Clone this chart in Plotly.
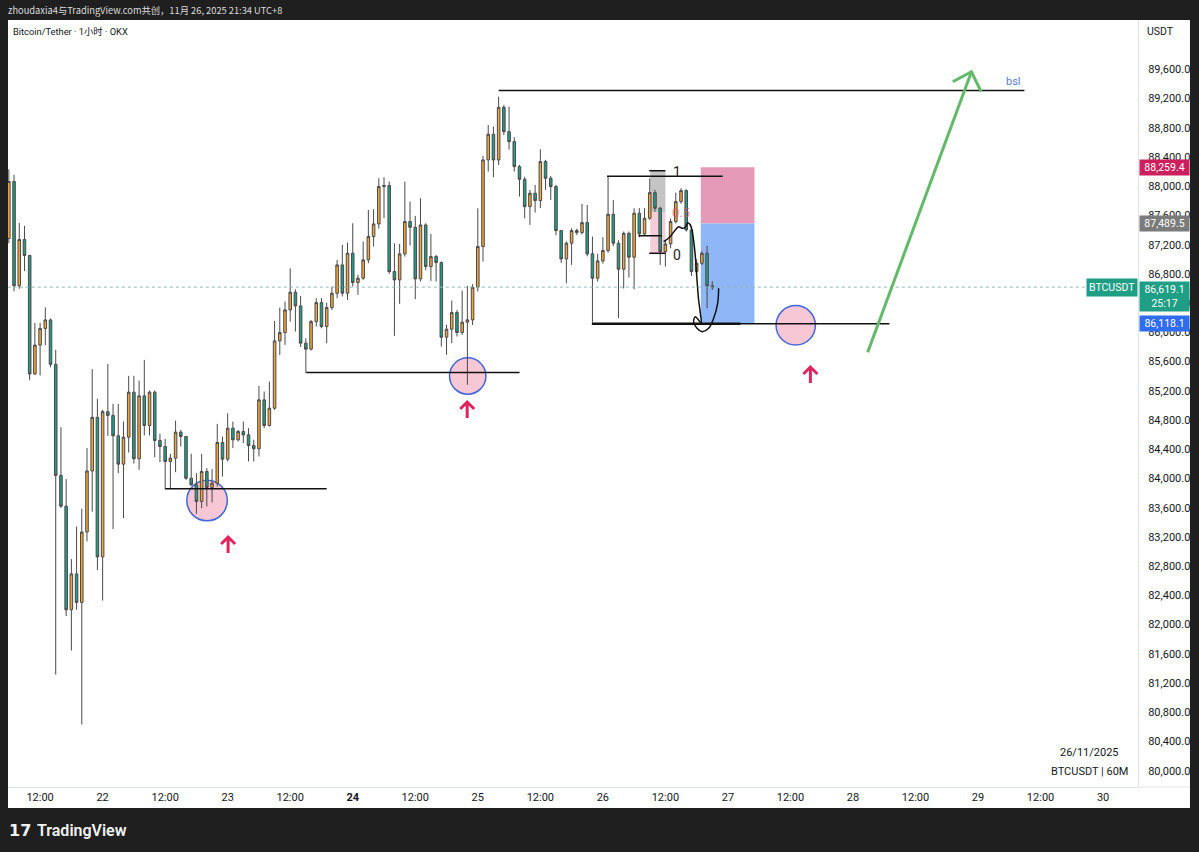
import pandas as pd
import plotly.graph_objects as go

# BTC/USDT 1h candles on OKX, 21 Nov 06:00 -> 26 Nov 21:00 (UTC+8)
START = "2025-11-21 06:00"

OPEN = [
    87285, 88065, 86636, 87270, 87052, 85430, 85825, 86054, 86170, 85562,
    84042, 83621, 82203, 82694, 82304, 83267, 84103, 84837, 82927, 84914,
    84863, 84584, 84196, 84565, 85181, 84269, 85131, 84725, 85181, 84520,
    84438, 84232, 84278, 84634, 84574, 84004, 83913, 83685, 84095, 83877,
    83936, 84492, 84264, 84688, 84529, 84643, 84597, 84451, 84406, 85076,
    84725, 84962, 85883, 85997, 86307, 86549, 86362, 85852, 85770, 86147,
    86407, 86079, 86339, 86535, 86923, 86536, 87083, 86682, 86741, 86992,
    87311, 87484, 87995, 88009, 86832, 86718, 87074, 87516, 87438, 86732,
    87470, 86900, 87037, 86955, 85934, 86043, 86271, 85998, 86139, 86171,
    86618, 87174, 88360, 88711, 88360, 89080, 88747, 88610, 88268, 88095,
    87721, 87904, 87803, 88337, 88109, 87995, 87393, 87005, 87220, 87393,
    87365, 87502, 87074, 86741, 86978, 87119, 87616, 87220, 86864, 87356,
    87028, 87630, 87347, 87561, 87912, 87698, 87105, 87210, 87516, 87789,
    87940, 87402, 86832, 86946, 87082, 86636,
]
HIGH = [
    88232, 88156, 87498, 87457, 87060, 86130, 86130, 86342, 86190, 85760,
    84701, 83991, 82897, 83343, 83586, 84417, 85496, 85091, 84940, 85568,
    85021, 85021, 84779, 85404, 85404, 85340, 85623, 85204, 85204, 84611,
    84542, 84337, 84793, 84665, 84583, 84337, 84073, 84337, 84141, 84127,
    84748, 84574, 84893, 84779, 84665, 84779, 84688, 84529, 85267, 85190,
    85327, 86157, 86339, 86421, 86877, 86590, 86499, 85919, 86170, 86467,
    86467, 86407, 86626, 86992, 87197, 87229, 87493, 86787, 87243, 87676,
    87685, 88109, 88123, 88063, 87220, 87210, 88063, 87790, 87594, 87835,
    87493, 87347, 87060, 86969, 86102, 86435, 86307, 86572, 86636, 86660,
    87698, 88415, 88838, 88816, 89226, 89112, 89089, 88670, 88290, 88130,
    87949, 88018, 88506, 88360, 88140, 88020, 87400, 87243, 87425, 87420,
    87758, 87744, 87311, 87074, 87302, 88141, 87812, 87260, 87380, 87380,
    87698, 87700, 87700, 88108, 87950, 87720, 87260, 87560, 87912, 87972,
    87960, 87420, 87000, 87110, 87183, 86700,
]
LOW = [
    87219, 86560, 86596, 86839, 85344, 85420, 85410, 85825, 85522, 81316,
    83596, 82117, 81645, 82203, 80632, 83140, 83545, 82745, 82329, 84584,
    83307, 84073, 83457, 84355, 84204, 84118, 84588, 84588, 84292, 84223,
    83854, 83854, 84086, 84437, 83981, 83899, 83516, 83594, 83617, 83671,
    83890, 84027, 84232, 84415, 84506, 84483, 84232, 84232, 84301, 84688,
    84711, 84939, 85691, 85828, 86147, 86011, 85800, 85441, 85751, 86079,
    86056, 85851, 86307, 86467, 86490, 86444, 86627, 86513, 86718, 86946,
    87174, 87420, 87562, 86800, 85952, 86390, 87037, 87188, 86454, 86695,
    86850, 86704, 86695, 85806, 85692, 85852, 85943, 85966, 85282, 86100,
    86560, 86969, 88200, 88123, 88290, 88700, 88500, 88200, 87858, 87560,
    87470, 87640, 87700, 87950, 87812, 87330, 86950, 86672, 86923, 87330,
    87340, 87040, 86134, 86695, 86940, 87090, 87180, 86194, 86600, 86750,
    86590, 87300, 87320, 87540, 87650, 86923, 86900, 87150, 87490, 87760,
    87380, 86772, 86810, 86920, 86330, 86580,
]
CLOSE = [
    88065, 86636, 87270, 87052, 85430, 85825, 86054, 86170, 85562, 84042,
    83621, 82203, 82694, 82304, 83267, 84103, 84837, 82927, 84914, 84863,
    84584, 84196, 84565, 85181, 84269, 85131, 84725, 85181, 84520, 84438,
    84232, 84278, 84634, 84574, 84004, 83913, 83685, 84095, 83877, 83936,
    84492, 84264, 84688, 84529, 84643, 84597, 84451, 84406, 85076, 84725,
    84962, 85883, 85997, 86307, 86549, 86362, 85852, 85770, 86147, 86407,
    86079, 86339, 86535, 86923, 86536, 87083, 86682, 86741, 86992, 87311,
    87484, 87995, 88009, 86832, 86718, 87074, 87516, 87438, 86732, 87470,
    86900, 87037, 86955, 85934, 86043, 86271, 85998, 86139, 86171, 86618,
    87174, 88360, 88711, 88360, 89080, 88747, 88610, 88268, 88095, 87721,
    87904, 87803, 88337, 88109, 87995, 87393, 87005, 87220, 87393, 87365,
    87502, 87074, 86741, 86978, 87119, 87616, 87220, 86864, 87356, 87028,
    87630, 87347, 87561, 87912, 87698, 87105, 87210, 87516, 87789, 87940,
    87402, 86832, 86946, 87082, 86636, 86619.1,
]

X_TICKS = [
    "2025-11-21 12:00", "2025-11-22", "2025-11-22 12:00", "2025-11-23",
    "2025-11-23 12:00", "2025-11-24", "2025-11-24 12:00", "2025-11-25",
    "2025-11-25 12:00", "2025-11-26", "2025-11-26 12:00", "2025-11-27",
    "2025-11-27 12:00", "2025-11-28", "2025-11-28 12:00", "2025-11-29",
    "2025-11-29 12:00", "2025-11-30",
]
X_LABELS = [
    "12:00", "22", "12:00", "23", "12:00", "<b>24</b>", "12:00", "25", "12:00",
    "26", "12:00", "27", "12:00", "28", "12:00", "29", "12:00", "30",
]
Y_TICKS = list(range(80000, 89601, 400))

# drawn levels and position tool prices
LAST_PRICE = 86619.1
STOP_PRICE = 88259.4
ENTRY_PRICE = 87489.5
TARGET_PRICE = 86118.1
BSL_LEVEL = 89310
MID_LEVEL = 85449
LOW_LEVEL = 83858
FIB_TOP, FIB_BOTTOM = 88212, 87082

# hand drawn path, hours from 22 Nov 00:00 / price
CURVE_HOURS = [107.66, 108.81, 109.91, 110.54, 111.19, 111.83, 112.27, 112.79,
               113.31, 113.75, 114.07, 114.38, 114.71, 114.84, 113.75, 113.42,
               114.07, 115.03, 116.30, 117.26, 118.03, 118.22]
CURVE_PRICES = [87241, 87301, 87401, 87446, 87424, 87438, 87500, 87469,
                87309, 87035, 86716, 86442, 86260, 86132, 86214, 86145,
                86055, 86009, 86055, 86192, 86397, 86603]

UP = "#f2a33a"
DOWN = "#259a85"
FONT = "Roboto, Arial, sans-serif"
CJK = "Noto Sans CJK SC, Roboto, sans-serif"

BASE = pd.Timestamp("2025-11-22 00:00")


def at(h):
    return BASE + pd.Timedelta(hours=h)


times = pd.date_range(START, periods=len(OPEN), freq="h")

fig = go.Figure()
fig.add_trace(go.Candlestick(
    x=times, open=OPEN, high=HIGH, low=LOW, close=CLOSE,
    increasing=dict(fillcolor=UP, line=dict(color="#4a4a4a", width=1)),
    decreasing=dict(fillcolor=DOWN, line=dict(color="#4a4a4a", width=1)),
    whiskerwidth=0, hoverinfo="skip",
))
fig.add_trace(go.Scatter(
    x=[at(h) for h in CURVE_HOURS], y=CURVE_PRICES, mode="lines",
    line=dict(color="#111111", width=1.5, shape="spline"), hoverinfo="skip",
))

shapes = []
# white chart frame (axes areas)
shapes.append(dict(type="rect", xref="paper", yref="paper", x0=0, x1=1.046,
                   y0=-0.0274, y1=1, fillcolor="white", line_width=0, layer="below"))
shapes.append(dict(type="line", xref="paper", yref="paper", x0=1, x1=1.046,
                   y0=0, y1=0, line=dict(color="#e0e3eb", width=1)))

# position tool boxes + fib box
shapes.append(dict(type="rect", x0=at(114.8), x1=at(125.1), y0=ENTRY_PRICE, y1=STOP_PRICE,
                   fillcolor="#e59bb8", line_width=0, layer="below"))
shapes.append(dict(type="rect", x0=at(114.8), x1=at(125.1), y0=TARGET_PRICE, y1=ENTRY_PRICE,
                   fillcolor="#8fb6f6", line_width=0, layer="below"))
fib_mid = (FIB_TOP + FIB_BOTTOM) / 2
shapes.append(dict(type="rect", x0=at(105.1), x1=at(108.0), y0=fib_mid, y1=FIB_TOP,
                   fillcolor="#c4c4c4", line_width=0, layer="below"))
shapes.append(dict(type="rect", x0=at(105.1), x1=at(108.0), y0=FIB_BOTTOM, y1=fib_mid,
                   fillcolor="#f6cdd6", line_width=0, layer="below"))

# circles
for h0, h1, p0, p1 in [(16.15, 23.94, 83420, 83976),
                       (66.57, 73.56, 85153, 85651),
                       (129.24, 136.79, 85827, 86366)]:
    shapes.append(dict(type="circle", x0=at(h0), x1=at(h1), y0=p0, y1=p1,
                       fillcolor="#f7c7d6", line=dict(color="#4566d8", width=1.5),
                       layer="below"))

# current price line
shapes.append(dict(type="line", x0=at(-18.2), x1=at(189.6), y0=LAST_PRICE, y1=LAST_PRICE,
                   line=dict(color="#8dbab1", width=1, dash="dot")))

# horizontal levels
for h0, h1, p, w in [(76.0, 176.9, BSL_LEVEL, 1.5),
                     (39.1, 80.0, MID_LEVEL, 1.5),
                     (12.0, 43.0, LOW_LEVEL, 1.5),
                     (93.9, 151.0, TARGET_PRICE, 1.5),
                     (93.9, 122.4, TARGET_PRICE, 2.5),
                     (96.8, 119.0, 88135, 1.5),
                     (104.9, 108.0, FIB_TOP, 1.5),
                     (104.9, 108.0, FIB_BOTTOM, 1.5),
                     (102.85, 107.35, 87322, 1.5)]:
    shapes.append(dict(type="line", x0=at(h0), x1=at(h1), y0=p, y1=p,
                       line=dict(color="#111111", width=w)))

# green projection arrow
shapes.append(dict(type="line", x0=at(146.83), x1=at(166.74), y0=85727, y1=89567,
                   line=dict(color="#63b968", width=3)))
shapes.append(dict(type="path", xsizemode="pixel", ysizemode="pixel",
                   xanchor=at(166.74), yanchor=89567,
                   path="M-18.7,-10 L0,0 L9.7,-20", line=dict(color="#63b968", width=3)))

# red up arrows
for h, p in [(24.08, 83089), (69.96, 84937), (135.83, 85416)]:
    shapes.append(dict(type="path", xsizemode="pixel", ysizemode="pixel",
                       xanchor=at(h), yanchor=p,
                       path="M0,-8 L0,8 M-7,1 L0,8 L7,1",
                       line=dict(color="#e0245e", width=3)))

annotations = []


def tag(text, price, bg, yshift=0, yanchor="middle"):
    annotations.append(dict(
        text=text, xref="paper", x=1.0, xanchor="left", xshift=1, y=price, yref="y",
        yanchor=yanchor, yshift=yshift, showarrow=False, bgcolor=bg, width=47,
        borderpad=1, align="center", font=dict(family=FONT, size=10.5, color="white"),
    ))


tag("88,259.4", STOP_PRICE, "#cc1f5e")
tag("87,489.5", ENTRY_PRICE, "#7b7b7b")
tag("86,619.1<br>25:17", LAST_PRICE, "#1f9e86", yshift=6, yanchor="top")
tag("86,118.1", TARGET_PRICE, "#2f6cf0")
annotations.append(dict(
    text="BTCUSDT", xref="paper", x=1.0, xanchor="right", y=LAST_PRICE, yref="y",
    showarrow=False, bgcolor="#1f9e86", borderpad=2,
    font=dict(family=FONT, size=10.5, color="white"),
))

# drawing labels
for text, h, p, color, size in [("1", 110.2, 88200, "#222222", 14),
                                ("0", 110.2, 87060, "#222222", 14),
                                ("0.5", 110.9, 87635, "rgba(220,80,95,0.7)", 13),
                                ("bsl", 174.8, 89440, "#5b79d6", 11)]:
    annotations.append(dict(text=text, x=at(h), y=p, showarrow=False,
                            font=dict(family=FONT, size=size, color=color)))


# frame texts (paper coordinates)
def paper_text(text, px, py, size, color, family=FONT, xanchor="left", weight=None):
    font = dict(family=family, size=size, color=color)
    if weight:
        font["weight"] = weight
    annotations.append(dict(text=text, xref="paper", yref="paper",
                            x=(px - 8) / 1130, y=(787 - py) / 767,
                            xanchor=xanchor, yanchor="middle", showarrow=False, font=font))


paper_text("zhoudaxia4与TradingView.com共创，11月 26, 2025 21:34 UTC+8", 6, 10, 9.3, "#dcdcdc", CJK)
paper_text("Bitcoin/Tether · 1小时 · OKX", 11, 31, 9.3, "#131722", FONT + ", Noto Sans CJK SC")
paper_text("USDT", 1160, 32, 10.5, "#131722", xanchor="center")
paper_text("26/11/2025", 1089, 752, 11, "#131722", xanchor="center")
paper_text("BTCUSDT | 60M", 1089, 771, 11, "#131722", xanchor="center")
paper_text("<b>17</b>", 7, 830, 16, "#f2f2f2", "DejaVu Sans")
paper_text("TradingView", 35, 830, 16, "#f2f2f2", weight=600)

fig.update_layout(
    width=1199, height=852,
    margin=dict(l=8, r=61, t=20, b=65),
    paper_bgcolor="#1f1f1f", plot_bgcolor="white",
    showlegend=False,
    font=dict(family=FONT, color="#131722"),
    shapes=shapes, annotations=annotations,
    xaxis=dict(
        type="date", range=[at(-18.16), at(198.7)],
        tickvals=X_TICKS, ticktext=X_LABELS, ticks="",
        showgrid=False, zeroline=False, rangeslider=dict(visible=False),
        showline=True, linecolor="#e0e3eb", linewidth=1,
        tickfont=dict(size=11, color="#131722"), ticklabelstandoff=0,
    ),
    yaxis=dict(
        side="right", range=[79777, 90275], tickvals=Y_TICKS, tickformat=",.1f",
        ticks="", showgrid=False, zeroline=False,
        showline=True, linecolor="#e0e3eb", linewidth=1,
        tickfont=dict(size=11, color="#131722"), ticklabelstandoff=7,
    ),
)

# page body has a default 8px margin; drop it so the figure fills the window
fig.write_html("out.html", config={"displayModeBar": False},
               post_script="document.body.style.margin='0';")
